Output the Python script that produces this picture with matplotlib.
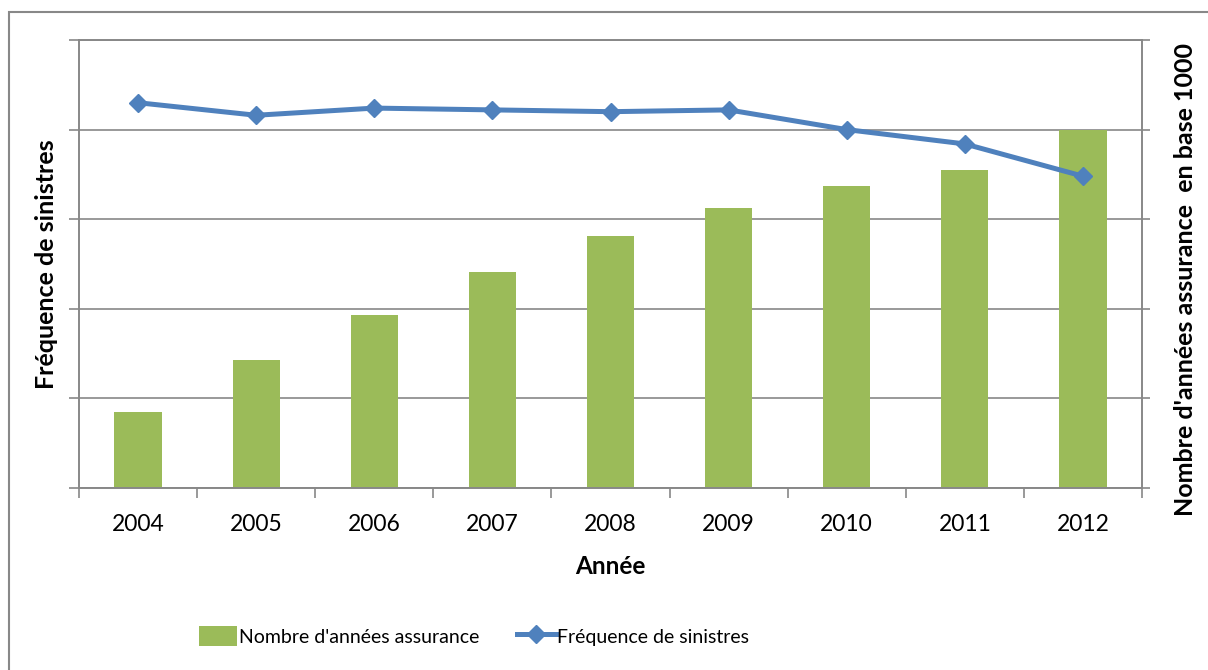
import matplotlib.pyplot as plt
from matplotlib.patches import Rectangle

# Data
years = ["2004", "2005", "2006", "2007", "2008", "2009", "2010", "2011", "2012"]
annees_assurance = [211, 356, 483, 603, 703, 781, 842, 886, 1000]
frequence = [0.215, 0.208, 0.212, 0.211, 0.210, 0.211, 0.200, 0.192, 0.174]

GREEN = "#9BBB59"
BLUE = "#4F81BD"
GREY = "#888888"

plt.rcParams["font.family"] = ["Lato", "DejaVu Sans"]

fig = plt.figure(figsize=(12.08, 6.70), dpi=100)
ax = fig.add_axes([79 / 1208, 1 - 488 / 670, (1142 - 79) / 1208, 448 / 670])
ax2 = ax.twinx()

x = list(range(len(years)))

# Bars (base 1000) and line (frequency)
bars = ax.bar(x, annees_assurance, width=0.4, color=GREEN, zorder=2,
              label="Nombre d'années assurance")
line, = ax2.plot(x, frequence, color=BLUE, lw=3.6, marker="D", ms=9,
                 label="Fréquence de sinistres", zorder=3)

ax.set_xlim(-0.5, len(years) - 0.5)
ax.set_ylim(0, 1250)
ax.set_yticks(range(0, 1251, 250))
ax2.set_ylim(0, 0.25)
ax2.set_yticks([0, 0.05, 0.1, 0.15, 0.2, 0.25])

ax.grid(axis="y", color=GREY, lw=1.2, zorder=0)
ax.set_axisbelow(True)

# x ticks at category boundaries, labels at centres
ax.set_xticks([i - 0.5 for i in range(len(years) + 1)])
ax.set_xticklabels([])
ax.set_xticks(x, minor=True)
ax.set_xticklabels(years, minor=True, fontsize=16.5)
ax.tick_params(axis="x", which="major", length=7, width=1.2, color=GREY)
ax.tick_params(axis="x", which="minor", length=0, pad=19)

ax.tick_params(axis="y", length=7, width=1.2, color=GREY, labelleft=False)
ax2.tick_params(axis="y", length=6, width=1.2, color=GREY, labelright=False)

for a in (ax, ax2):
    for s in a.spines.values():
        s.set_color(GREY)
        s.set_linewidth(1.2)

ax.set_xlabel("Année", fontsize=17.5, fontweight="bold", labelpad=14)
ax.set_ylabel("Fréquence de sinistres", fontsize=18, fontweight="bold", labelpad=8)
ax2.set_ylabel("Nombre d'années assurance  en base 1000", fontsize=18,
               fontweight="bold", labelpad=17, y=0.465)

fig.legend(handles=[bars, line], loc="center",
           bbox_to_anchor=(474 / 1208, 1 - 636 / 670), ncol=2, frameon=False,
           fontsize=14, handlelength=2.0, handleheight=1.2, handletextpad=0.1,
           columnspacing=1.9)

# outer chart border
fig.add_artist(Rectangle((9 / 1208, -0.02), 1.0, (670 - 12) / 670 + 0.02,
                         transform=fig.transFigure, fill=False,
                         edgecolor=GREY, lw=1.5))

fig.savefig("out.png", dpi=100)
